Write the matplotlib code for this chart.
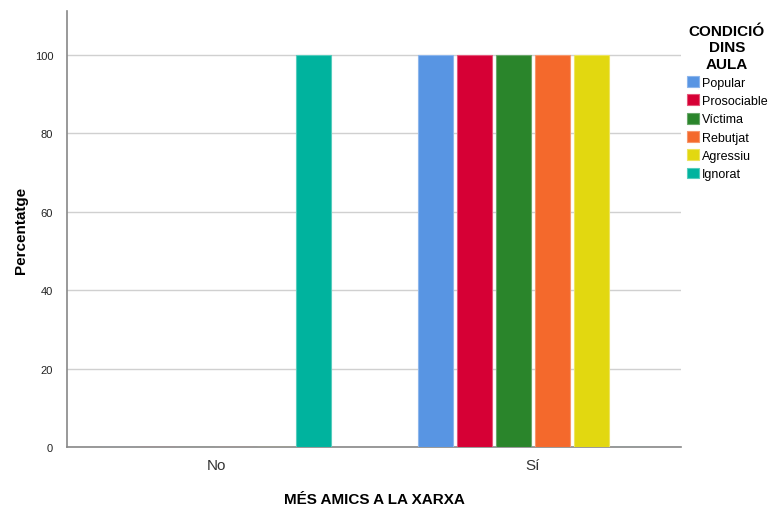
import matplotlib
matplotlib.use('Agg')
import matplotlib.pyplot as plt
import numpy as np

plt.rcParams['font.family'] = ['Liberation Sans', 'DejaVu Sans']

categories = ['No', 'Sí']
groups = ['Popular', 'Prosociable', 'Víctima', 'Rebutjat', 'Agressiu', 'Ignorat']
popular = [0, 100]
prosociable = [0, 100]
victima = [0, 100]
rebutjat = [0, 100]
agressiu = [0, 100]
ignorat = [100, 0]
colors = ['#5895E3', '#D60035', '#2A852B', '#F4692C', '#E2D810', '#00B39E']
edges = ['#8DB6EC', '#E5577A', '#6AA86B', '#F7976C', '#EDE45E', '#55CCBD']

series = [popular, prosociable, victima, rebutjat, agressiu, ignorat]

fig = plt.figure(figsize=(7.78, 5.06), dpi=100)
ax = fig.add_axes([0.0861, 0.1146, 0.7892, 0.8617])

x = np.arange(len(categories))
step = 0.1232
width = 0.1106
for i, vals in enumerate(series):
    ax.bar(x + (i - 2.5) * step, vals, width, color=colors[i],
           edgecolor=edges[i], linewidth=0.8, label=groups[i], zorder=3)

ax.set_xlim(-0.471, 1.469)
ax.set_ylim(0, 111.2)
ax.set_yticks([0, 20, 40, 60, 80, 100])
ax.yaxis.grid(True, color='#D0D0D0', linewidth=1, zorder=0)
ax.set_xticks(x)
ax.set_xticklabels(categories, fontsize=11, color='#333333')
ax.tick_params(axis='y', labelsize=8, length=0, pad=10, colors='#222222')
ax.tick_params(axis='x', length=0, pad=8)

for s in ['top', 'right']:
    ax.spines[s].set_visible(False)
for s in ['left', 'bottom']:
    ax.spines[s].set_color('#888888')
    ax.spines[s].set_linewidth(1.2)

ax.set_ylabel('Percentatge', fontsize=11, fontweight='bold', labelpad=5)
ax.set_xlabel('MÉS AMICS A LA XARXA', fontsize=11, fontweight='bold', labelpad=14)

leg = ax.legend(title='CONDICIÓ\nDINS\nAULA', loc='upper left',
                bbox_to_anchor=(0.995, 0.99), frameon=False, fontsize=9,
                title_fontproperties={'weight': 'bold', 'size': 11},
                handlelength=0.95, handleheight=0.95, handletextpad=0.25,
                labelspacing=0.45, borderaxespad=0.3)
leg._legend_box.align = 'center'
leg.get_title().set_multialignment('center')

fig.savefig('out.png', dpi=100)
